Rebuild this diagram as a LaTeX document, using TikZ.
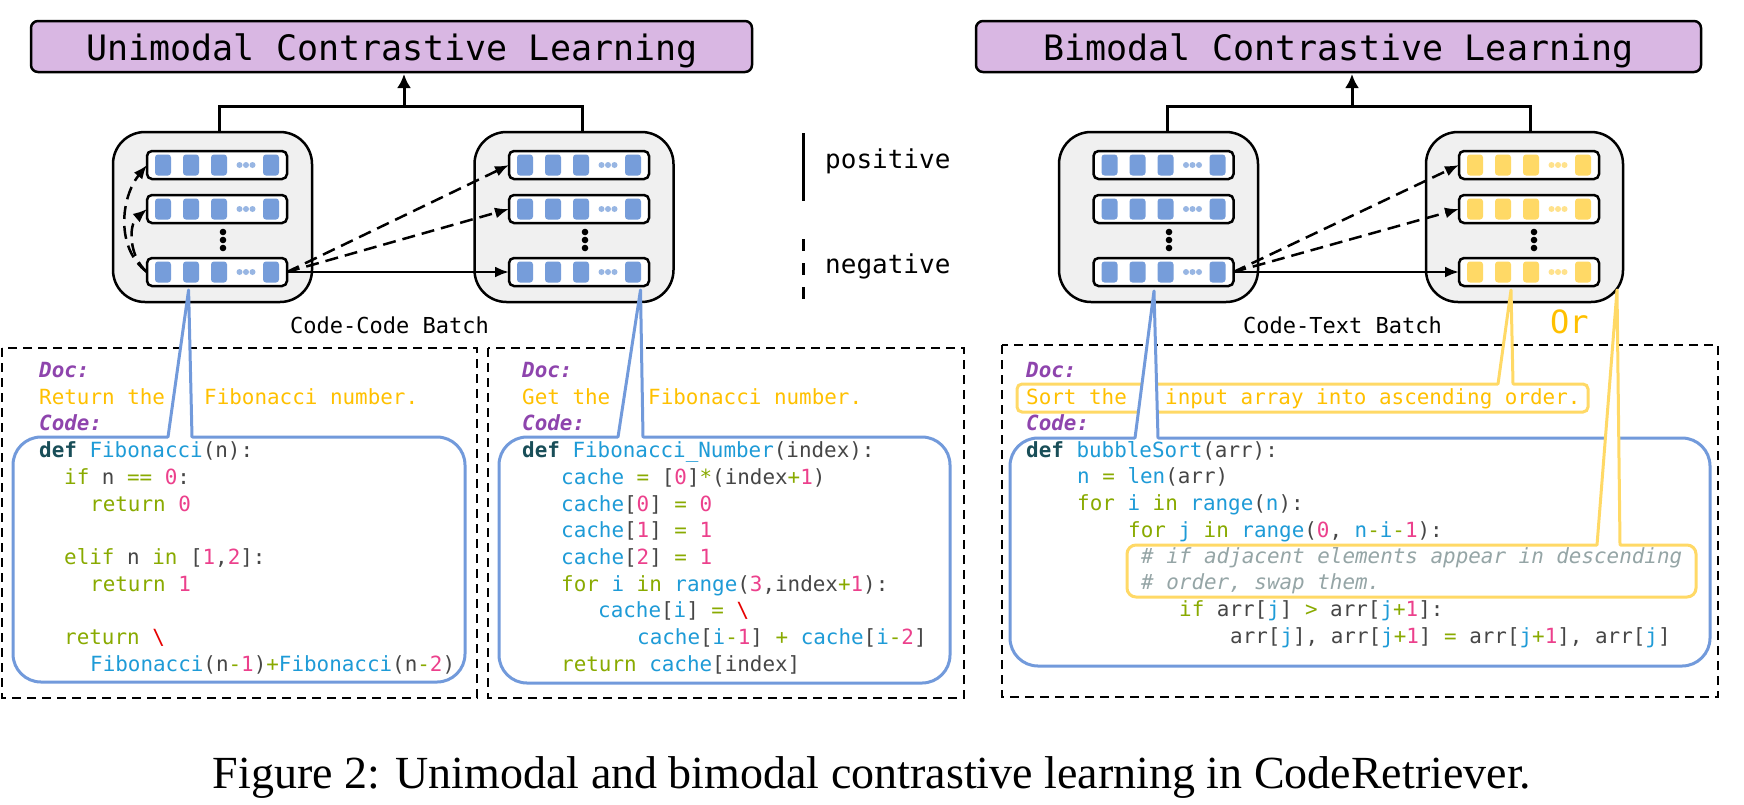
\documentclass[tikz,border=0pt]{standalone}
\usepackage{fontspec}
\usetikzlibrary{arrows.meta,calc}
\newfontfamily\cmono{DejaVu Sans Mono}
\newfontfamily\capfont{Liberation Serif}
\definecolor{titlepurple}{RGB}{217,183,227}
\definecolor{boxgray}{RGB}{240,240,240}
\definecolor{sqblue}{RGB}{118,157,218}
\definecolor{sqyellow}{RGB}{255,217,102}
\definecolor{callblue}{RGB}{114,154,219}
\definecolor{callyellow}{RGB}{255,217,102}
\definecolor{oryellow}{RGB}{255,192,0}
\definecolor{docpurple}{RGB}{142,68,173}
\definecolor{docyellow}{RGB}{255,192,0}
\definecolor{kwgreen}{RGB}{137,170,0}
\definecolor{fnblue}{RGB}{30,155,215}
\definecolor{numpink}{RGB}{236,64,140}
\definecolor{plaingray}{RGB}{70,70,70}
\definecolor{defteal}{RGB}{25,78,88}
\definecolor{comgray}{RGB}{149,165,166}
\definecolor{bsred}{RGB}{230,0,0}
\newcommand{\ckw}[1]{\textcolor{kwgreen}{#1}}
\newcommand{\cfn}[1]{\textcolor{fnblue}{#1}}
\newcommand{\cnum}[1]{\textcolor{numpink}{#1}}
\newcommand{\cpl}[1]{\textcolor{plaingray}{#1}}
\newcommand{\cdef}[1]{\textcolor{defteal}{\bfseries #1}}
\newcommand{\cdoc}[1]{\textcolor{docpurple}{\bfseries\itshape #1}}
\newcommand{\cyel}[1]{\textcolor{docyellow}{#1}}
\newcommand{\ccom}[1]{\textcolor{comgray}{\itshape #1}}
\newcommand{\cred}[1]{\textcolor{bsred}{#1}}
\newcommand{\rowfill}[2]{%
  \foreach \dx in {16,44,72,124}{\fill[#2, rounded corners=3pt] ($(#1.west)+(\dx-8,-10.5)$) rectangle ($(#1.west)+(\dx+8,10.5)$);}
  \foreach \dx in {92.5,99,105.5}{\fill[#2!75!white] ($(#1.west)+(\dx,0)$) circle (3pt);}
}
\newcommand{\batchdots}[1]{\foreach \yy in {232,240,248}{\fill (#1,\yy) circle (3.3pt);}}
\newcommand{\calloutptr}[6]{%
  \fill[white] (#2-0.3,#4+2.5) -- (#5,#6) -- (#3+0.3,#4+2.5) -- cycle;
  \draw[draw=#1, line width=3pt, line cap=round, line join=round] (#2,#4) -- (#5,#6) -- (#3,#4);
}
\begin{document}
\begin{tikzpicture}[x=1pt,y=-1pt,
  titlebox/.style={draw, line width=2.5pt, fill=titlepurple, rounded corners=7pt, inner sep=0pt, outer sep=0pt, minimum height=51pt},
  titletext/.style={inner sep=0pt, anchor=base, font=\cmono\fontsize{35}{40}\selectfont},
  batchbox/.style={draw, line width=2.5pt, fill=boxgray, rounded corners=32pt, minimum width=199pt, minimum height=170pt, inner sep=0pt, outer sep=0pt},
  rowbox/.style={draw, line width=2.5pt, fill=white, rounded corners=5pt, minimum width=140pt, minimum height=28pt, inner sep=0pt, outer sep=0pt},
  tree/.style={line width=3pt},
  uparrow/.style={line width=3pt, -{Latex[length=14pt,width=14pt]}, shorten >=2pt},
  dasharrow/.style={line width=2.5pt, dash pattern=on 13pt off 7pt, -{Latex[length=14pt,width=11pt]}},
  solidarrow/.style={line width=2.5pt, -{Latex[length=14pt,width=11pt]}},
  dashbox/.style={line width=2.5pt, dash pattern=on 9pt off 6pt},
  bluecall/.style={draw=callblue, line width=3pt, fill=white, rounded corners=28pt},
  yelcall/.style={draw=callyellow, line width=3pt, fill=white},
  code/.style={anchor=base west, inner sep=0pt, font=\cmono\fontsize{20.9}{25}\selectfont},
  legendtext/.style={anchor=base west, inner sep=0pt, font=\cmono\fontsize{26}{30}\selectfont},
  batchlabel/.style={anchor=base west, inner sep=0pt, font=\cmono\fontsize{22}{26}\selectfont}
]
\useasboundingbox (0,0) rectangle (1744,804);

% ---------- titles ----------
\node[titlebox, minimum width=721pt] (ut) at (391.5,46.5) {};
\node[titletext] (utt) at (392,60) {Unimodal Contrastive Learning};
\node[titlebox, minimum width=725pt] (bt) at (1338.5,46.5) {};
\node[titletext] (btt) at (1338.5,60) {Bimodal Contrastive Learning};

% ---------- batch boxes ----------
\node[batchbox] (ub1) at (212.5,217) {};
\node[batchbox] (ub2) at (574,217) {};
\node[batchbox] (bb1) at (1158.5,217) {};
\node[batchbox, minimum width=197pt] (bb2) at (1524.5,217) {};

\foreach \nm/\xx in {ub1/217, ub2/579, bb1/1163.5, bb2/1529}{
  \node[rowbox] (\nm r1) at (\xx,165) {};
  \node[rowbox] (\nm r2) at (\xx,209) {};
  \node[rowbox] (\nm r3) at (\xx,272) {};
}
\foreach \nm in {ub1,ub2,bb1}{\rowfill{\nm r1}{sqblue}\rowfill{\nm r2}{sqblue}\rowfill{\nm r3}{sqblue}}
\rowfill{bb2r1}{sqyellow}\rowfill{bb2r2}{sqyellow}\rowfill{bb2r3}{sqyellow}
\batchdots{223}\batchdots{585}\batchdots{1169}\batchdots{1534}

% ---------- tree connectors ----------
\coordinate (uj1) at (219,106); \coordinate (uj2) at (582,106); \coordinate (ujm) at (404,106);
\draw[tree] (ub1.north -| uj1) -- (uj1) -- (uj2) -- (ub2.north -| uj2);
\draw[uparrow] (ujm) -- (ut.south -| ujm);
\coordinate (bj1) at (1167,106); \coordinate (bj2) at (1530,106); \coordinate (bjm) at (1352,106);
\draw[tree] (bb1.north -| bj1) -- (bj1) -- (bj2) -- (bb2.north -| bj2);
\draw[uparrow] (bjm) -- (bt.south -| bjm);

% ---------- batch arrows ----------
\draw[dasharrow] (ub1r3.east) -- (ub2r1.west);
\draw[dasharrow] (ub1r3.east) -- (ub2r2.west);
\draw[solidarrow] (ub1r3.east) -- (ub2r3.west);
\draw[dasharrow] (ub1r3.west) .. controls +(-32,-24) and +(-26,32) .. (ub1r1.west);
\draw[dasharrow] (ub1r3.west) .. controls +(-18,-15) and +(-19,16) .. (ub1r2.west);
\draw[dasharrow] (bb1r3.east) -- (bb2r1.west);
\draw[dasharrow] (bb1r3.east) -- (bb2r2.west);
\draw[solidarrow] (bb1r3.east) -- (bb2r3.west);

% ---------- legend ----------
\coordinate (lp1) at (803,133); \coordinate (lp2) at (803,201);
\draw[line width=3pt] (lp1) -- (lp2);
\node[legendtext] (lpos) at (825,168) {positive};
\coordinate (ln1) at (803,239); \coordinate (ln2) at (803,302);
\draw[line width=3pt, dash pattern=on 12pt off 12pt] (ln1) -- (ln2);
\node[legendtext] (lneg) at (825,273) {negative};

\node[batchlabel] (ucl) at (290,333) {Code-Code Batch};
\node[batchlabel] (bcl) at (1243,333) {Code-Text Batch};
\node[anchor=base west, inner sep=0pt, font=\cmono\fontsize{32}{36}\selectfont, text=oryellow] (orl) at (1550,333) {Or};

% ---------- dashed code panels ----------
\draw[dashbox] (2,348) rectangle (477,698);
\draw[dashbox] (488,348) rectangle (964,698);
\draw[dashbox] (1002,345) rectangle (1718,697);

% ---------- callouts ----------
\draw[bluecall] (13,437) rectangle (465,682);
\calloutptr{callblue}{168}{192}{437}{188.6}{290}
\draw[bluecall] (499,437) rectangle (950,683);
\calloutptr{callblue}{618}{643}{437}{640.5}{290}
\draw[yelcall, rounded corners=5pt] (1017,384) rectangle (1588,412);
\calloutptr{callyellow}{1498}{1513}{384}{1511}{290}
\draw[bluecall] (1010,438) rectangle (1710,666);
\calloutptr{callblue}{1135}{1158}{438}{1154}{291}
\draw[yelcall, rounded corners=9pt] (1127,545) rectangle (1696,597);
\calloutptr{callyellow}{1597}{1620}{545}{1617}{290}

% ---------- left code ----------
\node[code] (ldoc) at (39,377) {\cdoc{Doc:}};
\node[code] (lret) at (39,404) {\cyel{Return the}};
\node[code] (lfib) at (204,404) {\cyel{Fibonacci number.}};
\node[code] (lcode) at (39,430) {\cdoc{Code:}};
\node[code] (l1) at (39,457) {\cdef{def} \cfn{Fibonacci}\cpl{(n):}};
\node[code] (l2) at (64,484) {\ckw{if} \cpl{n} \ckw{==} \cnum{0}\cpl{:}};
\node[code] (l3) at (90,511) {\ckw{return} \cnum{0}};
\node[code] (l4) at (64,564) {\ckw{elif} \cpl{n} \ckw{in} \cpl{[}\cnum{1}\cpl{,}\cnum{2}\cpl{]:}};
\node[code] (l5) at (90,591) {\ckw{return} \cnum{1}};
\node[code] (l6) at (64,644) {\ckw{return} \cred{\textbackslash}};
\node[code] (l7) at (90,671) {\cfn{Fibonacci}\cpl{(n}\ckw{-}\cnum{1}\cpl{)}\ckw{+}\cfn{Fibonacci}\cpl{(n}\ckw{-}\cnum{2}\cpl{)}};

% ---------- middle code ----------
\node[code] (mdoc) at (522,377) {\cdoc{Doc:}};
\node[code] (mget) at (522,404) {\cyel{Get the}};
\node[code] (mfib) at (648,404) {\cyel{Fibonacci number.}};
\node[code] (mcode) at (522,430) {\cdoc{Code:}};
\node[code] (m1) at (522,457) {\cdef{def} \cfn{Fibonacci\_Number}\cpl{(index):}};
\node[code] (m2) at (561,484) {\cfn{cache} \ckw{=} \cpl{[}\cnum{0}\cpl{]}\ckw{*}\cpl{(index}\ckw{+}\cnum{1}\cpl{)}};
\node[code] (m3) at (561,511) {\cfn{cache}\cpl{[}\cnum{0}\cpl{]} \ckw{=} \cnum{0}};
\node[code] (m4) at (561,537) {\cfn{cache}\cpl{[}\cnum{1}\cpl{]} \ckw{=} \cnum{1}};
\node[code] (m5) at (561,564) {\cfn{cache}\cpl{[}\cnum{2}\cpl{]} \ckw{=} \cnum{1}};
\node[code] (m6) at (561,591) {\ckw{for} \cfn{i} \ckw{in} \cfn{range}\cpl{(}\cnum{3}\cpl{,index}\ckw{+}\cnum{1}\cpl{):}};
\node[code] (m7) at (598,617) {\cfn{cache}\cpl{[}\cfn{i}\cpl{]} \ckw{=} \cred{\textbackslash}};
\node[code] (m8) at (637,644) {\cfn{cache}\cpl{[}\cfn{i}\ckw{-}\cnum{1}\cpl{]} \ckw{+} \cfn{cache}\cpl{[}\cfn{i}\ckw{-}\cnum{2}\cpl{]}};
\node[code] (m9) at (561,671) {\ckw{return} \cfn{cache}\cpl{[index]}};

% ---------- right code ----------
\node[code] (rdoc) at (1026,377) {\cdoc{Doc:}};
\node[code] (rsort) at (1026,404) {\cyel{Sort the}};
\node[code] (rinp) at (1165,404) {\cyel{input array into ascending order.}};
\node[code] (rcode) at (1026,430) {\cdoc{Code:}};
\node[code] (r1) at (1026,457) {\cdef{def} \cfn{bubbleSort}\cpl{(arr):}};
\node[code] (r2) at (1077,483) {\cfn{n} \ckw{=} \cfn{len}\cpl{(arr)}};
\node[code] (r3) at (1077,510) {\ckw{for} \cfn{i} \ckw{in} \cfn{range}\cpl{(}\cfn{n}\cpl{):}};
\node[code] (r4) at (1128,537) {\ckw{for} \cfn{j} \ckw{in} \cfn{range}\cpl{(}\cnum{0}\cpl{,} \cfn{n}\ckw{-}\cfn{i}\ckw{-}\cnum{1}\cpl{):}};
\node[code] (r5) at (1141,563) {\ccom{\# if adjacent elements appear in descending}};
\node[code] (r6) at (1141,589) {\ccom{\# order, swap them.}};
\node[code] (r7) at (1179,616) {\ckw{if} \cpl{arr[}\cfn{j}\cpl{]} \ckw{>} \cpl{arr[}\cfn{j}\ckw{+}\cnum{1}\cpl{]:}};
\node[code] (r8) at (1230,643) {\cpl{arr[}\cfn{j}\cpl{],} \cpl{arr[}\cfn{j}\ckw{+}\cnum{1}\cpl{]} \ckw{=} \cpl{arr[}\cfn{j}\ckw{+}\cnum{1}\cpl{],} \cpl{arr[}\cfn{j}\cpl{]}};

% ---------- caption ----------
\node[anchor=base, inner sep=0pt, font=\capfont\fontsize{46}{52}\selectfont] (cap) at (872,788) {Figure 2: Unimodal and bimodal contrastive learning in CodeRetriever.};
\end{tikzpicture}
\end{document}
